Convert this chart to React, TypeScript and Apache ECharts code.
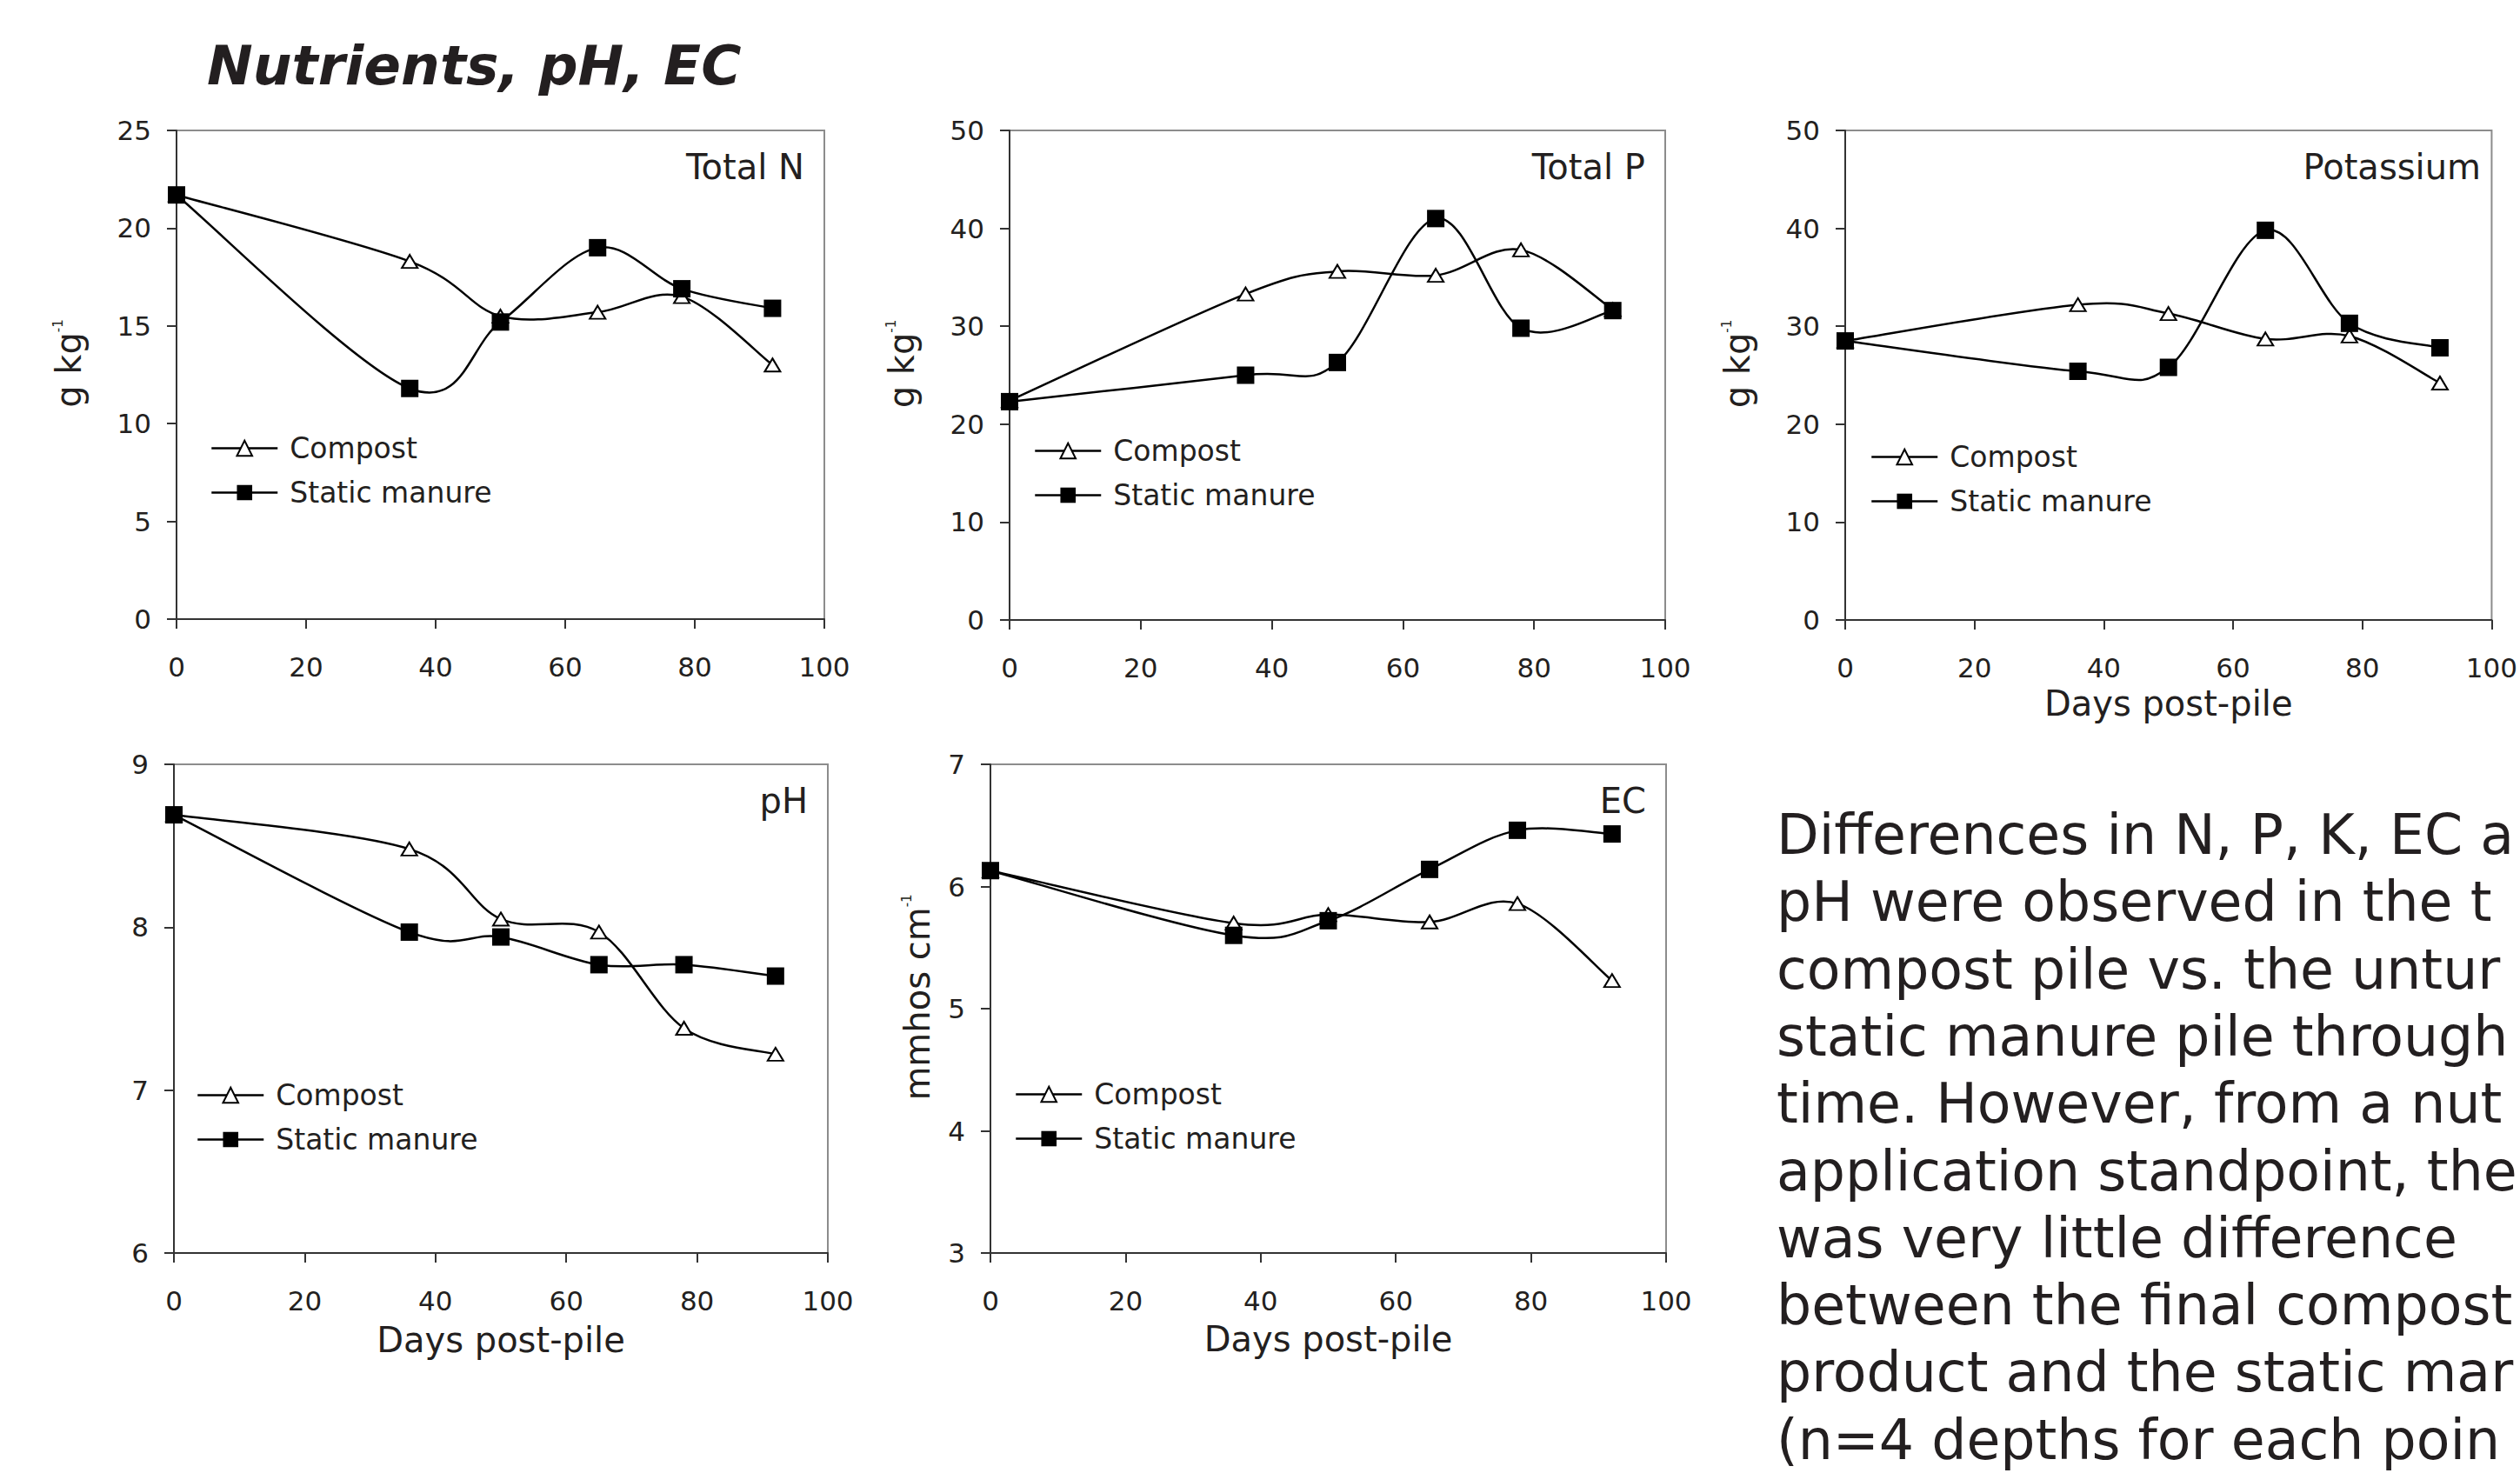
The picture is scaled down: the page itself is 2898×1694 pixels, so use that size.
import React, { useEffect, useRef } from 'react';
import * as echarts from 'echarts';

// ---------- data ----------
const days = [0, 36, 50, 65, 78, 92];
const seriesNames = ['Compost', 'Static manure'];

const nitrogenCompost = [21.7, 18.3, 15.5, 15.7, 16.5, 13.0];
const nitrogenManure = [21.7, 11.8, 15.2, 19.0, 16.9, 15.9];
const phosphorusCompost = [22.4, 33.3, 35.6, 35.2, 37.8, 31.7];
const phosphorusManure = [22.3, 25.0, 26.3, 41.0, 29.8, 31.6];
const potassiumCompost = [28.5, 32.2, 31.3, 28.7, 29.0, 24.2];
const potassiumManure = [28.5, 25.4, 25.8, 39.8, 30.3, 27.8];
const phCompost = [8.69, 8.48, 8.05, 7.97, 7.38, 7.22];
const phManure = [8.69, 7.97, 7.94, 7.77, 7.77, 7.70];
const ecCompost = [6.13, 5.70, 5.77, 5.71, 5.86, 5.23];
const ecManure = [6.13, 5.60, 5.72, 6.14, 6.46, 6.43];

const panelTitles = ['Total N', 'Total P', 'Potassium', 'pH', 'EC'];
const yRanges = [
  [0, 25, 5],
  [0, 50, 10],
  [0, 50, 10],
  [6, 9, 1],
  [3, 7, 1],
];
const xRange = [0, 100, 20];
const yAxisNames = [
  ['g kg', '-1'],
  ['g kg', '-1'],
  ['g kg', '-1'],
  null,
  ['mmhos cm', '-1'],
];
const xAxisName = 'Days post-pile';
const xNameShown = [false, false, true, true, true];

const pageTitle = 'Nutrients, pH, EC';
// the paragraph as far as it is visible before the slide's right edge
const noteLines = [
  'Differences in N, P, K, EC a',
  'pH were observed in the t',
  'compost pile vs. the untur',
  'static manure pile through',
  'time. However, from a nut',
  'application standpoint, the',
  'was very little difference',
  'between the final compost',
  'product and the static mar',
  '(n=4 depths for each poin',
];

const compostData = [nitrogenCompost, phosphorusCompost, potassiumCompost, phCompost, ecCompost];
const manureData = [nitrogenManure, phosphorusManure, potassiumManure, phManure, ecManure];

// ---------- layout ----------
const W = 2898;
const H = 1694;
const FONT = "'DejaVu Sans', Verdana, sans-serif";
const INK = '#231f20';

const grids = [
  { left: 203, top: 150, width: 745, height: 562 },
  { left: 1161, top: 150, width: 754, height: 563 },
  { left: 2122, top: 150, width: 754, height: 563 },
  { left: 200, top: 879, width: 752, height: 562 },
  { left: 1139, top: 879, width: 777, height: 562 },
];
const legendPos = [
  { left: 242, top: 499 },
  { left: 1189, top: 502 },
  { left: 2151, top: 509 },
  { left: 226, top: 1243 },
  { left: 1167, top: 1242 },
];
const yNameGaps = [104, 104, 104, 0, 64];
const xNameGaps = [76, 76, 76, 80, 79];

// Excel-like smoothed segment (Catmull-Rom, tension 1/6) between point j and j+1
function smoothSegment(xs: number[], ys: number[], color: string) {
  const n = xs.length;
  return (params: any, api: any) => {
    const j = params.dataIndex;
    if (j >= n - 1) return { type: 'group', children: [] };
    const c = (k: number) => {
      const kk = Math.max(0, Math.min(n - 1, k));
      return api.coord([xs[kk], ys[kk]]);
    };
    const p0 = c(j - 1);
    const p1 = c(j);
    const p2 = c(j + 1);
    const p3 = c(j + 2);
    return {
      type: 'bezierCurve',
      shape: {
        x1: p1[0],
        y1: p1[1],
        x2: p2[0],
        y2: p2[1],
        cpx1: p1[0] + (p2[0] - p0[0]) / 6,
        cpy1: p1[1] + (p2[1] - p0[1]) / 6,
        cpx2: p2[0] - (p3[0] - p1[0]) / 6,
        cpy2: p2[1] - (p3[1] - p1[1]) / 6,
      },
      style: { stroke: color, lineWidth: 2.5, fill: 'none' },
      silent: true,
    };
  };
}

function buildOption() {
  const grid = grids.map((g) => ({
    ...g,
    show: true,
    borderColor: '#8c8c8c',
    borderWidth: 2,
    backgroundColor: 'transparent',
    containLabel: false,
  }));

  const axisLineStyle = { color: '#333', width: 2 };

  const xAxis = grids.map((_, i) => ({
    type: 'value',
    gridIndex: i,
    min: xRange[0],
    max: xRange[1],
    interval: xRange[2],
    axisLine: { show: true, onZero: false, lineStyle: axisLineStyle },
    axisTick: { show: true, length: 11, inside: false, lineStyle: axisLineStyle },
    splitLine: { show: false },
    axisLabel: { fontSize: 31, fontFamily: FONT, color: INK, margin: 39, showMaxLabel: true, showMinLabel: true },
    name: xNameShown[i] ? xAxisName : '',
    nameLocation: 'middle',
    nameGap: xNameGaps[i],
    nameTextStyle: { fontSize: 40, fontFamily: FONT, color: INK },
  }));

  const yAxis = grids.map((_, i) => {
    const nm = yAxisNames[i];
    return {
      type: 'value',
      gridIndex: i,
      min: yRanges[i][0],
      max: yRanges[i][1],
      interval: yRanges[i][2],
      axisLine: { show: true, onZero: false, lineStyle: axisLineStyle },
      axisTick: { show: true, length: 11, inside: false, lineStyle: axisLineStyle },
      splitLine: { show: false },
      axisLabel: { fontSize: 31, fontFamily: FONT, color: INK, margin: 29 },
      name: nm ? `{a|${nm[0]}}{s|${nm[1]}}` : '',
      nameLocation: 'middle',
      nameRotate: 90,
      nameGap: yNameGaps[i],
      nameTextStyle: {
        fontSize: 40,
        fontFamily: FONT,
        color: INK,
        padding: [0, 0, 0, 26],
        rich: {
          a: { fontSize: 40, fontFamily: FONT, color: INK },
          s: { fontSize: 15, fontFamily: FONT, color: INK, verticalAlign: 'top' },
        },
      },
    };
  });

  const series: any[] = [];
  grids.forEach((_, i) => {
    // smoothed connecting curves
    series.push({
      type: 'custom',
      xAxisIndex: i,
      yAxisIndex: i,
      data: days.map((d, j) => [d, compostData[i][j]]),
      encode: { x: 0, y: 1 },
      renderItem: smoothSegment(days, compostData[i], '#000'),
      silent: true,
      z: 1,
    });
    series.push({
      type: 'custom',
      xAxisIndex: i,
      yAxisIndex: i,
      data: days.map((d, j) => [d, manureData[i][j]]),
      encode: { x: 0, y: 1 },
      renderItem: smoothSegment(days, manureData[i], '#000'),
      silent: true,
      z: 1,
    });
    // markers
    series.push({
      name: seriesNames[0],
      type: 'line',
      xAxisIndex: i,
      yAxisIndex: i,
      data: days.map((d, j) => [d, compostData[i][j]]),
      symbol: 'triangle',
      symbolSize: [18, 15],
      showAllSymbol: true,
      itemStyle: { color: '#ffffff', borderColor: '#000', borderWidth: 2 },
      lineStyle: { color: '#000', width: 2.5, opacity: 0 },
      z: 2,
    });
    series.push({
      name: seriesNames[1],
      type: 'line',
      xAxisIndex: i,
      yAxisIndex: i,
      data: days.map((d, j) => [d, manureData[i][j]]),
      symbol: 'rect',
      symbolSize: 20,
      showAllSymbol: true,
      itemStyle: { color: '#000', borderColor: '#000', borderWidth: 0 },
      lineStyle: { color: '#000', width: 2.5, opacity: 0 },
      z: 3,
    });
  });

  const legend = grids.map((_, i) => ({
    data: seriesNames,
    orient: 'vertical',
    left: legendPos[i].left,
    top: legendPos[i].top,
    padding: 0,
    itemWidth: 76,
    itemHeight: 22,
    itemGap: 18,
    selectedMode: false,
    lineStyle: { color: '#000', width: 2.5, opacity: 1 },
    textStyle: { fontSize: 33, fontFamily: FONT, color: INK, padding: [0, 0, 0, 9] },
  }));

  const graphic: any[] = [];
  graphic.push({
    type: 'text',
    x: 238,
    y: 75,
    style: {
      text: pageTitle,
      fontSize: 63,
      fontFamily: FONT,
      fontWeight: 'bold',
      fontStyle: 'italic',
      fill: INK,
      align: 'left',
      verticalAlign: 'middle',
    },
  });
  grids.forEach((g, i) => {
    graphic.push({
      type: 'text',
      x: g.left + g.width - 23,
      y: g.top + 42,
      style: {
        text: panelTitles[i],
        fontSize: 40,
        fontFamily: FONT,
        fill: INK,
        align: 'right',
        verticalAlign: 'middle',
      },
    });
  });
  noteLines.forEach((line, i) => {
    graphic.push({
      type: 'text',
      x: 2043,
      y: 979 + i * 77.3 - 19,
      style: {
        text: line,
        fontSize: 63.3,
        fontFamily: FONT,
        fill: INK,
        align: 'left',
        verticalAlign: 'middle',
      },
    });
  });

  return {
    animation: false,
    backgroundColor: '#ffffff',
    grid,
    xAxis,
    yAxis,
    legend,
    series,
    graphic,
  };
}

export default function App() {
  const ref = useRef<HTMLDivElement>(null);
  useEffect(() => {
    if (!ref.current) return;
    const chart = echarts.init(ref.current, null, { renderer: 'svg', width: W, height: H });
    chart.setOption(buildOption() as any);
    return () => chart.dispose();
  }, []);
  return (
    <div
      ref={ref}
      style={{ position: 'fixed', left: 0, top: 0, width: W, height: H, background: '#fff', overflow: 'hidden' }}
    />
  );
}
